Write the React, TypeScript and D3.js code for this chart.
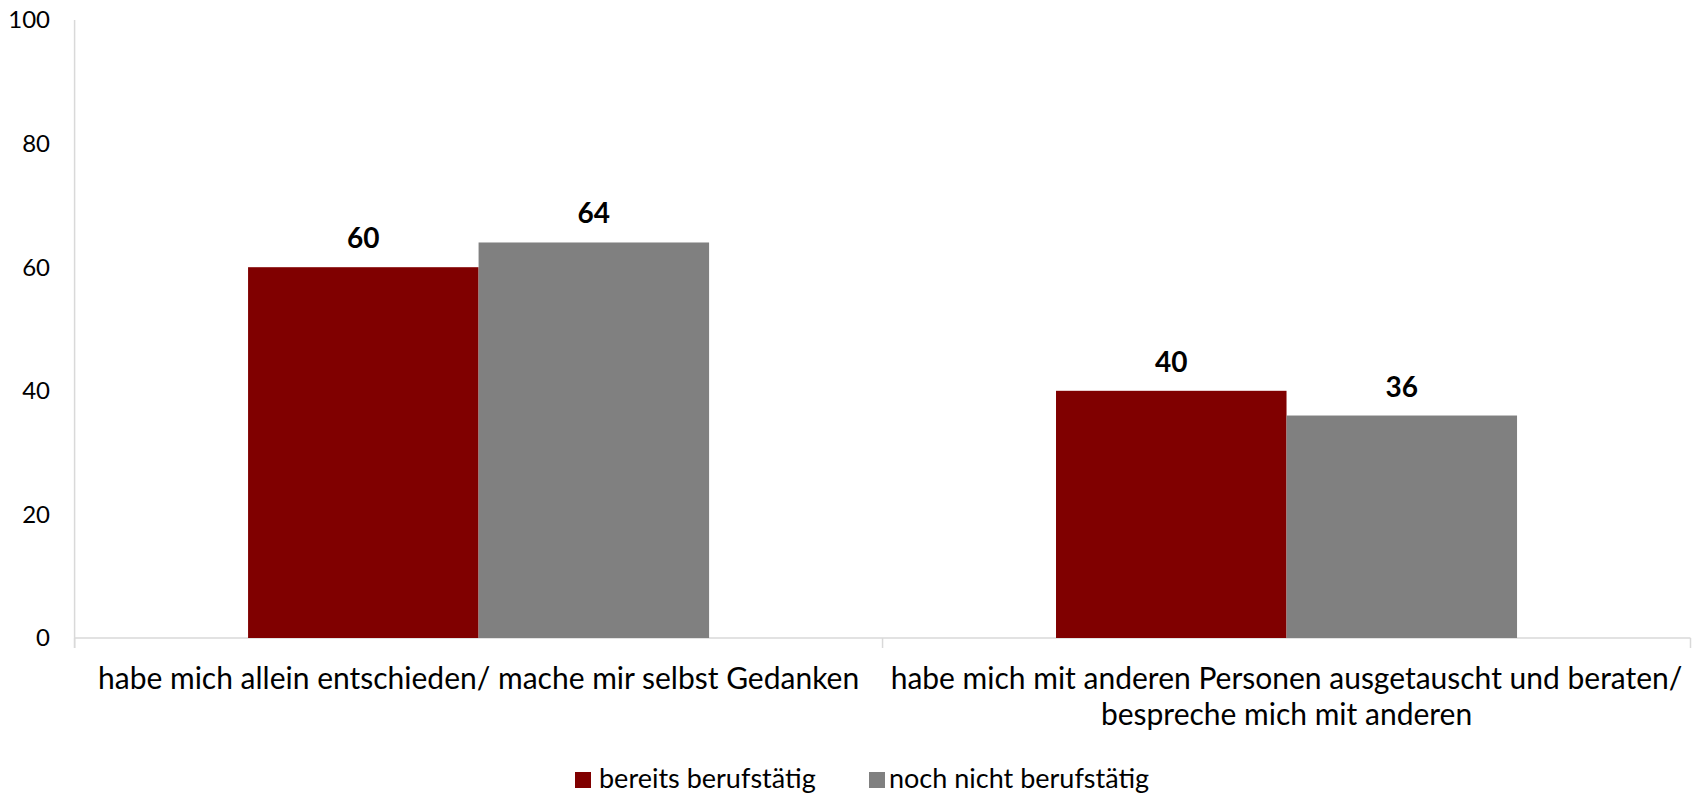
import React from "react";
import * as d3 from "d3";

const categories = [
  "habe mich allein entschieden/ mache mir selbst Gedanken",
  "habe mich mit anderen Personen ausgetauscht und beraten/ bespreche mich mit anderen",
];
const categoryLines = [
  ["habe mich allein entschieden/ mache mir selbst Gedanken"],
  ["habe mich mit anderen Personen ausgetauscht und beraten/", "bespreche mich mit anderen"],
];
const seriesNames = ["bereits berufstätig", "noch nicht berufstätig"];
const seriesColors = ["#800000", "#808080"];
const bereitsBerufstaetig = [60, 40];
const nochNichtBerufstaetig = [64, 36];
const yTicks = [0, 20, 40, 60, 80, 100];

const W = 1696;
const H = 795;
const FONT = "Lato, 'Open Sans', sans-serif";

export default function App() {
  const left = 74.6;
  const right = 1690.5;
  const top = 20;
  const bottom = 638;

  const x0 = d3.scaleBand<string>().domain(categories).range([left, right]).padding(0);
  const bw = x0.bandwidth();
  const groupW = (bw * 2) / (2 + 1.505);
  const x1 = d3
    .scaleBand<string>()
    .domain(seriesNames)
    .range([(bw - groupW) / 2, (bw + groupW) / 2])
    .padding(0);
  const y = d3.scaleLinear().domain([0, 100]).range([bottom, top]);

  const values = [bereitsBerufstaetig, nochNichtBerufstaetig];
  const axisColor = "#d9d9d9";

  const legendItems = [
    { sq: 575, tx: 599 },
    { sq: 869, tx: 889 },
  ];

  return (
    <svg
      width={W}
      height={H}
      style={{ position: "absolute", left: 0, top: 0, background: "#fff" }}
      fontFamily={FONT}
    >
      {/* y axis line */}
      <line x1={left} x2={left} y1={top} y2={bottom + 10} stroke={axisColor} strokeWidth={1.5} />
      {/* x axis line */}
      <line x1={left} x2={right} y1={bottom} y2={bottom} stroke={axisColor} strokeWidth={1.5} />
      {/* x ticks at band boundaries */}
      {[...categories.map((c) => x0(c)!), right].map((xv, i) => (
        <line key={i} x1={xv} x2={xv} y1={bottom} y2={bottom + 10} stroke={axisColor} strokeWidth={1.5} />
      ))}
      {/* y tick labels */}
      {yTicks.map((t) => (
        <text key={t} x={50} y={y(t)} dy="0.35em" textAnchor="end" fontSize={24} fill="#000">
          {t}
        </text>
      ))}
      {/* bars */}
      {categories.map((c, ci) =>
        seriesNames.map((s, si) => {
          const v = values[si][ci];
          const bx = x0(c)! + x1(s)!;
          return (
            <g key={c + s}>
              <rect x={bx} y={y(v)} width={x1.bandwidth()} height={bottom - y(v)} fill={seriesColors[si]} />
              <text
                x={bx + x1.bandwidth() / 2}
                y={y(v) - 19}
                textAnchor="middle"
                fontSize={28}
                fontWeight="bold"
                fill="#000"
              >
                {v}
              </text>
            </g>
          );
        })
      )}
      {/* category labels */}
      {categories.map((c, ci) =>
        categoryLines[ci].map((ln, li) => (
          <text
            key={c + li}
            x={x0(c)! + bw / 2}
            y={689 + li * 36}
            textAnchor="middle"
            fontSize={30}
            fill="#000"
          >
            {ln}
          </text>
        ))
      )}
      {/* legend */}
      {seriesNames.map((s, si) => (
        <g key={s}>
          <rect x={legendItems[si].sq} y={772} width={16} height={16} fill={seriesColors[si]} />
          <text x={legendItems[si].tx} y={788} fontSize={27} fill="#000">
            {s}
          </text>
        </g>
      ))}
    </svg>
  );
}
